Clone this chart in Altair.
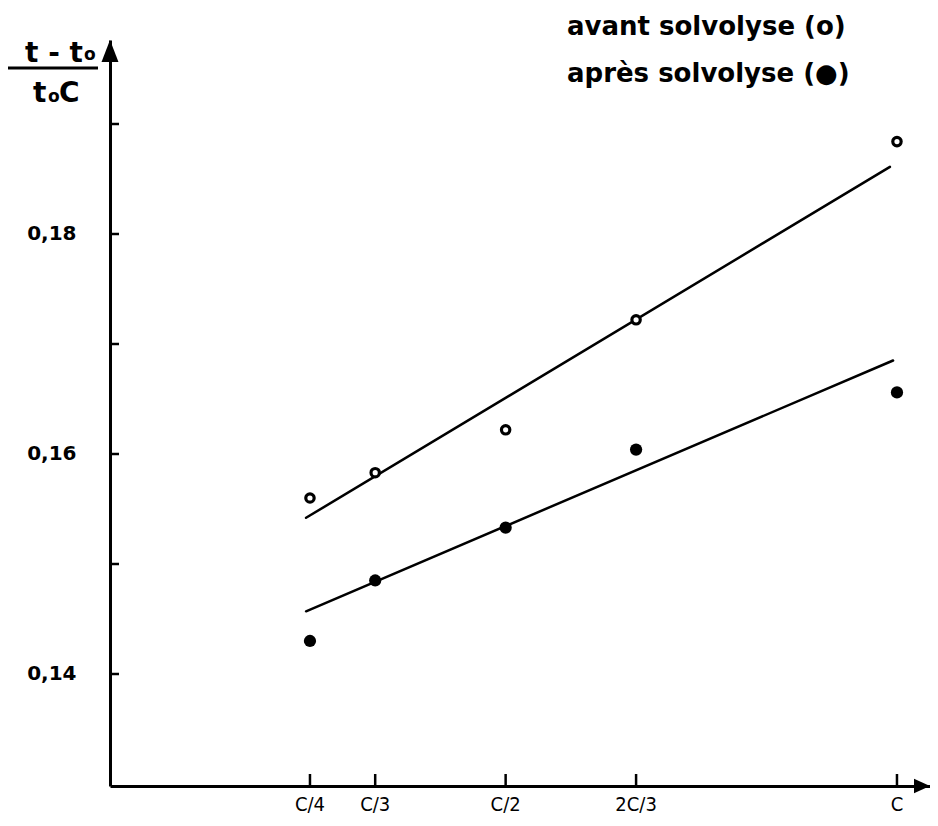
import altair as alt
import pandas as pd

# ---- data ----
x_labels = ["C/4", "C/3", "C/2", "2C/3", "C"]
x_values = [0.25, 1 / 3, 0.5, 2 / 3, 1.0]
avant = [0.1560, 0.1583, 0.1622, 0.1722, 0.1884]   # open circles
apres = [0.1430, 0.1485, 0.1533, 0.1604, 0.1656]   # filled circles
avant_fit_x = [0.245, 0.991]
avant_fit_y = [0.1542, 0.1861]
apres_fit_x = [0.245, 0.995]
apres_fit_y = [0.1457, 0.1685]
y_major = [0.14, 0.16, 0.18]
y_minor = [0.15, 0.17, 0.19]
legend_lines = ["avant solvolyse (o)", "après solvolyse (●)"]

W, H = 820, 746
BOLD = "DejaVu Sans"
COND = "DejaVu Sans Condensed, Liberation Sans Narrow, DejaVu Sans"

xs = alt.Scale(domain=[-0.0055, 1.0422], nice=False, zero=False)
ys = alt.Scale(domain=[0.129818, 0.197636], nice=False, zero=False)

xax = alt.Axis(labels=False, ticks=False, tickSize=0, grid=False, title=None,
               domain=True, domainColor="black", domainWidth=3)
yax = alt.Axis(values=y_major, ticks=False, tickSize=0, grid=False, title=None,
               domain=True, domainColor="black", domainWidth=3,
               labelExpr="replace(format(datum.value, '.2f'), '.', ',')",
               labelFont=BOLD, labelFontWeight="bold", labelFontSize=20,
               labelColor="black", labelPadding=34)

df_pts = pd.DataFrame({"x": x_values, "avant": avant, "apres": apres, "label": x_labels})
df_fa = pd.DataFrame({"x": avant_fit_x, "y": avant_fit_y})
df_fb = pd.DataFrame({"x": apres_fit_x, "y": apres_fit_y})
df_yt = pd.DataFrame({"v": y_major + y_minor})
one = pd.DataFrame({"k": [0]})

X = lambda f: alt.X(f, scale=xs, axis=xax)
Y = lambda f: alt.Y(f, scale=ys, axis=yax)

line_a = alt.Chart(df_fa).mark_line(color="black", strokeWidth=2.5, strokeCap="round").encode(
    x=X("x:Q"), y=Y("y:Q"))
line_b = alt.Chart(df_fb).mark_line(color="black", strokeWidth=2.5, strokeCap="round").encode(
    x=X("x:Q"), y=Y("y:Q"))

open_pts = alt.Chart(df_pts).mark_point(
    shape="circle", size=70, stroke="black", strokeWidth=3.2, fill="white",
    fillOpacity=1, opacity=1).encode(x=X("x:Q"), y=Y("avant:Q"))
fill_pts = alt.Chart(df_pts).mark_circle(size=150, color="black", opacity=1).encode(
    x=X("x:Q"), y=Y("apres:Q"))

yticks = alt.Chart(df_yt).mark_rule(color="black", strokeWidth=2.5).encode(
    y=Y("v:Q"), x=alt.value(0), x2=alt.value(9))
xticks = alt.Chart(df_pts).mark_rule(color="black", strokeWidth=2.5).encode(
    x=X("x:Q"), y=alt.value(H - 12), y2=alt.value(H))
xlabels = alt.Chart(df_pts).mark_text(
    font=COND, fontSize=20, baseline="top", color="black").encode(
    x=X("x:Q"), y=alt.value(H + 9), text="label:N")

arrow_up = alt.Chart(one).mark_point(
    shape="M0,-1L0.77,1L-0.77,1Z", size=484, filled=True, color="black",
    opacity=1, strokeWidth=0).encode(x=alt.value(0), y=alt.value(11))
arrow_right = alt.Chart(one).mark_point(
    shape="M1,0L-1,-0.9L-1,0.9Z", size=256, filled=True, color="black",
    opacity=1, strokeWidth=0).encode(x=alt.value(W - 8), y=alt.value(H))


def txt(s, x, y, size, align="left"):
    return alt.Chart(one).mark_text(
        text=s, font=BOLD, fontWeight="bold", fontSize=size, align=align,
        baseline="alphabetic", color="black").encode(x=alt.value(x), y=alt.value(y))


legend = [txt(legend_lines[0], 457, -5, 26), txt(legend_lines[1], 457, 42, 26)]

title_parts = [
    txt("t - t", -27, 22, 28, "right"),
    txt("o", -26, 20, 17),
    txt("t", -77, 62, 28),
    txt("o", -62, 62, 17),
    txt("C", -51, 62, 28),
]
frac_bar = alt.Chart(one).mark_rule(color="black", strokeWidth=3).encode(
    x=alt.value(-103), x2=alt.value(-12), y=alt.value(28))

chart = alt.layer(
    line_a, line_b, yticks, xticks, open_pts, fill_pts, xlabels,
    arrow_up, arrow_right, frac_bar, *legend, *title_parts
).properties(
    width=W, height=H,
    autosize=alt.AutoSizeParams(type="none"),
    padding={"left": 102, "top": 32, "right": 0, "bottom": 32},
).configure_view(stroke=None)

chart.save("out.html", embed_options={"renderer": "svg", "actions": False})
